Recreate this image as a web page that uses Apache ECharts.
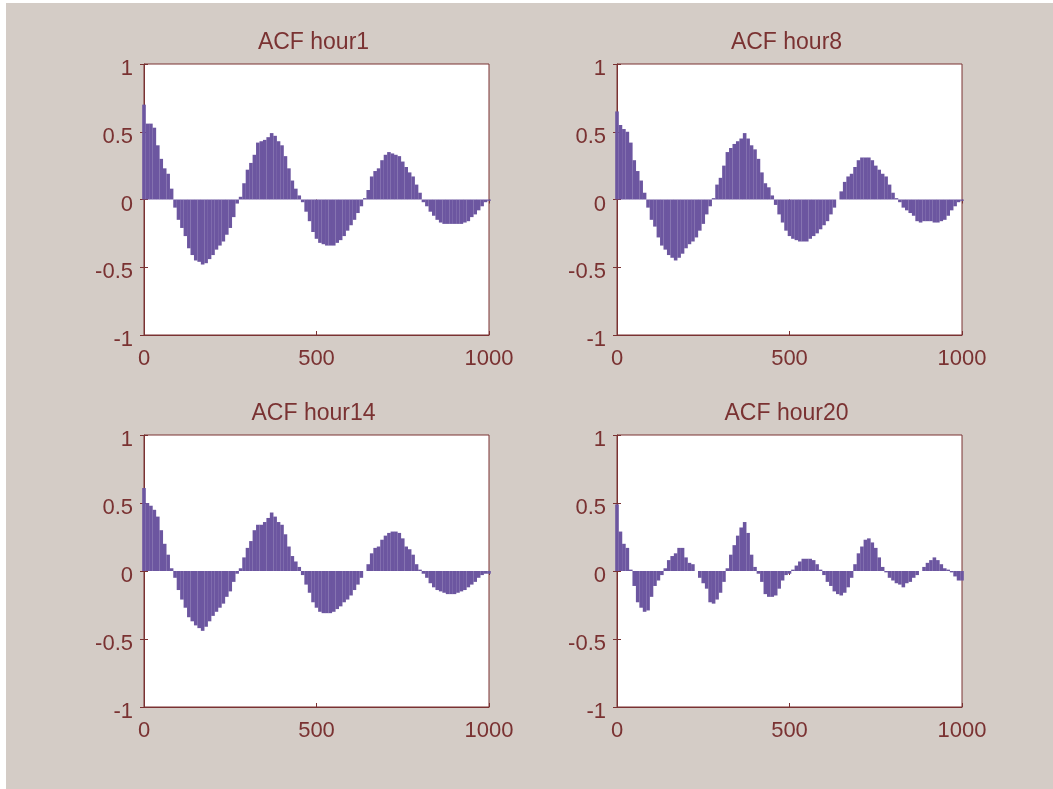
<!DOCTYPE html>
<html>
<head>
<meta charset="utf-8">
<title>ACF by hour</title>
<script src="https://cdn.jsdelivr.net/npm/echarts@6/dist/echarts.min.js"></script>
<style>
  html, body { margin: 0; padding: 0; background: #fff; }
  #chart { position: absolute; left: 6px; top: 3px; width: 1047px; height: 786px; background: #d4ccc6; }
</style>
</head>
<body>
<div id="chart"></div>
<script>
// lag positions of the bars (every 10 lags)
const lags = [0, 10, 20, 30, 40, 50, 60, 70, 80, 90, 100, 110, 120, 130, 140, 150, 160, 170, 180, 190,
  200, 210, 220, 230, 240, 250, 260, 270, 280, 290, 300, 310, 320, 330, 340, 350, 360, 370, 380, 390,
  400, 410, 420, 430, 440, 450, 460, 470, 480, 490, 500, 510, 520, 530, 540, 550, 560, 570, 580, 590,
  600, 610, 620, 630, 640, 650, 660, 670, 680, 690, 700, 710, 720, 730, 740, 750, 760, 770, 780, 790,
  800, 810, 820, 830, 840, 850, 860, 870, 880, 890, 900, 910, 920, 930, 940, 950, 960, 970, 980, 990, 1000];

const hour1 = [0.70, 0.56, 0.56, 0.53, 0.40, 0.30, 0.23, 0.19, 0.08, -0.06,
  -0.15, -0.21, -0.27, -0.36, -0.41, -0.45, -0.46, -0.48, -0.47, -0.44,
  -0.41, -0.37, -0.34, -0.31, -0.26, -0.21, -0.13, -0.03, 0.02, 0.12,
  0.22, 0.27, 0.33, 0.42, 0.43, 0.44, 0.46, 0.49, 0.47, 0.43,
  0.40, 0.32, 0.23, 0.14, 0.08, 0.03, -0.02, -0.09, -0.16, -0.24,
  -0.29, -0.32, -0.33, -0.34, -0.34, -0.34, -0.32, -0.30, -0.27, -0.23,
  -0.19, -0.15, -0.10, -0.05, 0.01, 0.07, 0.17, 0.21, 0.23, 0.29,
  0.33, 0.35, 0.34, 0.33, 0.32, 0.28, 0.24, 0.20, 0.17, 0.11,
  0.05, -0.02, -0.05, -0.09, -0.12, -0.15, -0.17, -0.18, -0.18, -0.18,
  -0.18, -0.18, -0.18, -0.17, -0.16, -0.13, -0.11, -0.08, -0.05, -0.02, -0.01];

const hour8 = [0.65, 0.55, 0.52, 0.50, 0.42, 0.29, 0.21, 0.14, 0.05, -0.06,
  -0.15, -0.20, -0.28, -0.34, -0.37, -0.41, -0.43, -0.45, -0.43, -0.40,
  -0.36, -0.33, -0.31, -0.28, -0.23, -0.18, -0.11, -0.05, 0.01, 0.11,
  0.16, 0.25, 0.35, 0.38, 0.41, 0.43, 0.45, 0.49, 0.45, 0.40,
  0.37, 0.30, 0.20, 0.12, 0.09, 0.03, -0.04, -0.11, -0.17, -0.23,
  -0.27, -0.29, -0.30, -0.31, -0.31, -0.31, -0.29, -0.27, -0.25, -0.22,
  -0.19, -0.16, -0.11, -0.06, 0.00, 0.06, 0.13, 0.17, 0.19, 0.24,
  0.29, 0.31, 0.31, 0.31, 0.29, 0.25, 0.22, 0.19, 0.17, 0.11,
  0.05, 0.01, -0.02, -0.06, -0.08, -0.10, -0.12, -0.16, -0.17, -0.16,
  -0.16, -0.16, -0.17, -0.17, -0.16, -0.15, -0.12, -0.08, -0.05, -0.02, -0.01];

const hour14 = [0.61, 0.50, 0.48, 0.45, 0.40, 0.30, 0.20, 0.12, 0.02, -0.05,
  -0.14, -0.21, -0.27, -0.34, -0.37, -0.40, -0.42, -0.44, -0.41, -0.37,
  -0.33, -0.30, -0.27, -0.24, -0.19, -0.15, -0.08, -0.02, 0.02, 0.10,
  0.17, 0.22, 0.30, 0.34, 0.34, 0.36, 0.39, 0.43, 0.40, 0.36,
  0.34, 0.27, 0.18, 0.11, 0.07, 0.03, -0.03, -0.10, -0.16, -0.23,
  -0.27, -0.30, -0.31, -0.31, -0.31, -0.30, -0.28, -0.26, -0.23, -0.21,
  -0.18, -0.14, -0.10, -0.05, 0.00, 0.05, 0.13, 0.17, 0.18, 0.23,
  0.26, 0.28, 0.29, 0.29, 0.28, 0.24, 0.18, 0.16, 0.12, 0.05,
  0.01, -0.02, -0.05, -0.09, -0.12, -0.14, -0.15, -0.16, -0.17, -0.17,
  -0.17, -0.16, -0.15, -0.14, -0.12, -0.10, -0.08, -0.05, -0.03, -0.02, -0.02];

const hour20 = [0.49, 0.29, 0.20, 0.17, 0.01, -0.11, -0.23, -0.27, -0.30, -0.29,
  -0.19, -0.11, -0.07, -0.03, 0.02, 0.08, 0.11, 0.13, 0.17, 0.17,
  0.10, 0.06, 0.05, 0.00, -0.05, -0.09, -0.13, -0.23, -0.24, -0.21,
  -0.16, -0.08, 0.02, 0.12, 0.19, 0.26, 0.32, 0.36, 0.28, 0.12,
  0.03, -0.02, -0.08, -0.17, -0.19, -0.19, -0.18, -0.13, -0.07, -0.03,
  -0.02, 0.01, 0.04, 0.07, 0.09, 0.09, 0.09, 0.08, 0.05, 0.01,
  -0.03, -0.08, -0.11, -0.15, -0.17, -0.18, -0.16, -0.12, -0.05, 0.05,
  0.13, 0.18, 0.23, 0.24, 0.21, 0.17, 0.10, 0.03, -0.01, -0.05,
  -0.07, -0.09, -0.10, -0.12, -0.09, -0.08, -0.05, -0.03, 0.00, 0.03,
  0.06, 0.08, 0.10, 0.08, 0.05, 0.02, 0.01, -0.01, -0.04, -0.07, -0.07];

const titles = ['ACF hour1', 'ACF hour8', 'ACF hour14', 'ACF hour20'];
const seriesValues = [hour1, hour8, hour14, hour20];

const xRange = [0, 1000];   // ticks every 500
const yRange = [-1, 1];     // ticks every 0.5

// panel boxes (px inside the chart div)
const boxes = [
  { left: 138, top: 61, width: 345, height: 271 },
  { left: 611, top: 61, width: 345, height: 271 },
  { left: 138, top: 432, width: 345, height: 272 },
  { left: 611, top: 432, width: 345, height: 272 }
];

const ink = '#7a3232';
const barColor = '#6c56a0';
const font = 'Liberation Sans, Arial, sans-serif';

const myChart = echarts.init(document.getElementById('chart'));

const grid = [], xAxis = [], yAxis = [], series = [], title = [];

boxes.forEach(function (b, i) {
  grid.push({
    left: b.left, top: b.top, width: b.width, height: b.height,
    show: true, backgroundColor: '#fff', borderColor: ink, borderWidth: 1
  });

  title.push({
    text: titles[i],
    left: b.left + b.width / 2 - 8,
    top: b.top - 38,
    textAlign: 'center',
    textStyle: { color: ink, fontFamily: font, fontSize: 23, fontWeight: 'normal' }
  });

  // bottom / left axes with labels
  xAxis.push({
    gridIndex: i, type: 'value', min: xRange[0], max: xRange[1], interval: 500,
    axisLine: { show: true, onZero: false, lineStyle: { color: ink } },
    axisTick: { inside: true, length: 4, lineStyle: { color: ink } },
    axisLabel: {
      color: ink, fontFamily: font, fontSize: 22, margin: 13,
      formatter: function (v) { return String(v); }
    },
    splitLine: { show: false }
  });
  yAxis.push({
    gridIndex: i, type: 'value', min: yRange[0], max: yRange[1], interval: 0.5,
    axisLine: { show: true, onZero: false, lineStyle: { color: ink } },
    axisTick: { inside: true, length: 4, lineStyle: { color: ink } },
    // labels sit a little below their ticks, as in the original figure
    axisLabel: { color: ink, fontFamily: font, fontSize: 22, margin: 11, verticalAlign: 'top', lineHeight: 10 },
    splitLine: { show: false }
  });
  // mirrored ticks on top / right
  xAxis.push({
    gridIndex: i, type: 'value', position: 'top', min: xRange[0], max: xRange[1], interval: 500,
    axisLine: { show: false },
    axisTick: { inside: true, length: 4, lineStyle: { color: ink } },
    axisLabel: { show: false }, splitLine: { show: false }
  });
  yAxis.push({
    gridIndex: i, type: 'value', position: 'right', min: yRange[0], max: yRange[1], interval: 0.5,
    axisLine: { show: false },
    axisTick: { inside: true, length: 4, lineStyle: { color: ink } },
    axisLabel: { show: false }, splitLine: { show: false }
  });

  series.push({
    type: 'bar',
    name: titles[i],
    xAxisIndex: i * 2,
    yAxisIndex: i * 2,
    barWidth: 3.6,
    clip: true,
    itemStyle: { color: barColor },
    data: lags.map(function (l, k) { return [l, seriesValues[i][k]]; })
  });
});

myChart.setOption({
  backgroundColor: '#d4ccc6',
  animation: false,
  title: title,
  grid: grid,
  xAxis: xAxis,
  yAxis: yAxis,
  series: series
});
</script>
</body>
</html>
